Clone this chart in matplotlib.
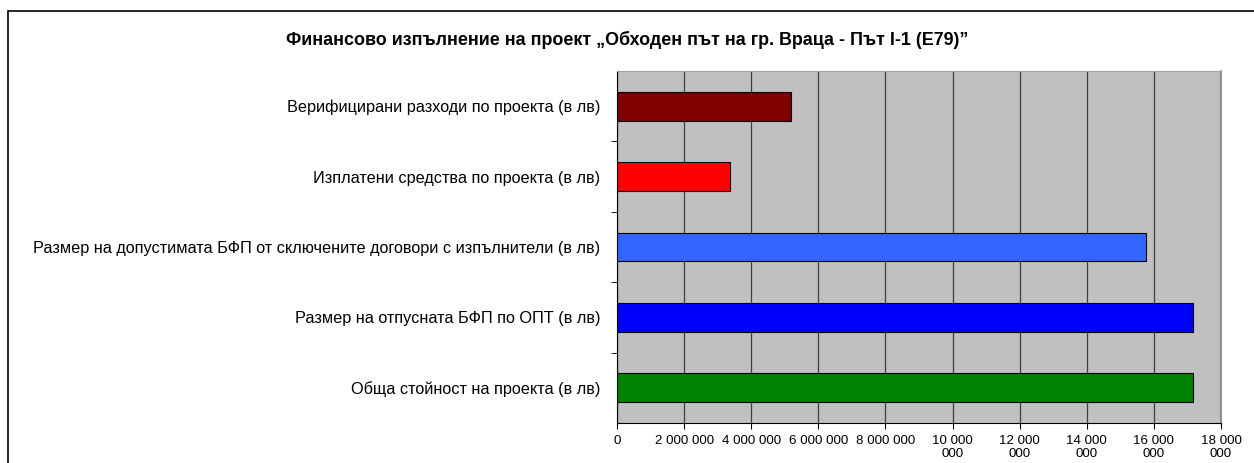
import matplotlib.pyplot as plt
from matplotlib.patches import Rectangle

# data (bottom to top)
categories = ['Обща стойност на проекта (в лв)',
              'Размер на отпусната БФП по ОПТ (в лв)',
              'Размер на допустимата БФП от сключените договори с изпълнители (в лв)',
              'Изплатени средства по проекта (в лв)',
              'Верифицирани разходи по проекта (в лв)']
values = [17170000, 17170000, 15760000, 3370000, 5180000]
colors = ['#008000', '#0000FF', '#3366FF', '#FF0000', '#800000']
xticks = [0, 2000000, 4000000, 6000000, 8000000, 10000000, 12000000,
          14000000, 16000000, 18000000]
xticklabels = ['0', '2 000 000', '4 000 000', '6 000 000', '8 000 000',
               '10 000\n000', '12 000\n000', '14 000\n000', '16 000\n000',
               '18 000\n000']
title = 'Финансово изпълнение на проект „Обходен път на гр. Враца - Път І-1 (Е79)”'

plt.rcParams['font.family'] = ['Liberation Sans', 'DejaVu Sans']

fig = plt.figure(figsize=(12.54, 4.63), dpi=100)
ax = fig.add_axes([617/1254, 1-423/463, (1221-617)/1254, (423-71)/463])

pos = list(range(len(categories)))
ax.barh(pos, values, height=0.41, color=colors, edgecolor='black', linewidth=0.8, zorder=3)

ax.set_facecolor('#C0C0C0')
ax.set_xlim(0, 18000000)
ax.set_ylim(-0.5, len(categories) - 0.5)
ax.set_xticks(xticks)
ax.set_xticklabels(xticklabels, fontsize=9.6, va='top', linespacing=1.02)
ax.set_yticks(pos)
ax.set_yticklabels(categories, fontsize=11.7)
ax.tick_params(axis='y', which='major', length=0, pad=12)
ax.set_yticks([p + 0.5 for p in pos[:-1]], minor=True)
ax.tick_params(axis='y', which='minor', length=4, direction='out')
ax.tick_params(axis='x', length=4, direction='out', pad=5)
ax.xaxis.grid(True, color='#404040', linewidth=0.9, zorder=0)
ax.set_axisbelow(True)

ax.spines['top'].set_color('#A0A0A0')
ax.spines['right'].set_color('#808080')
ax.spines['right'].set_linewidth(1.2)
ax.spines['left'].set_color('black')
ax.spines['bottom'].set_color('black')

fig.text(0.5, 1-40/463, title, ha='center', va='center', fontsize=12.9, fontweight='bold')

# outer chart border
fig.patches.append(Rectangle((8/1254, -0.1), 1.2, 1-11/463+0.1, transform=fig.transFigure,
                             fill=False, edgecolor='black', linewidth=1.2))

plt.savefig('out.png', dpi=100)
